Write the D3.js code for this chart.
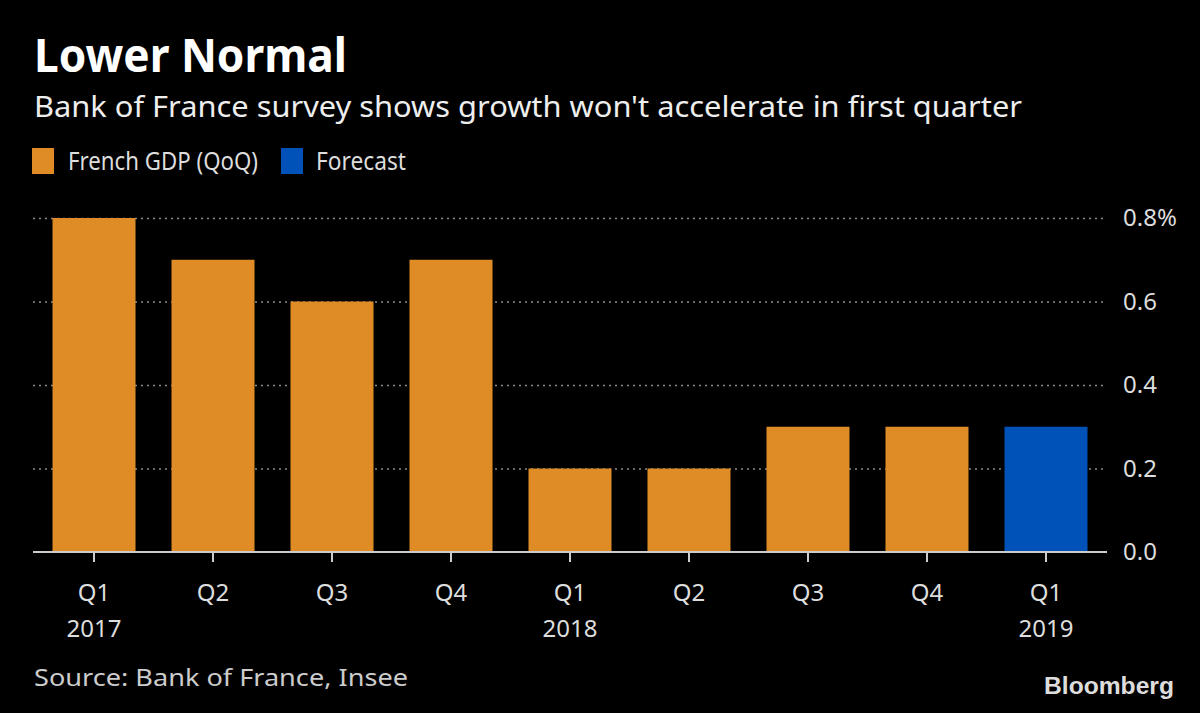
<!DOCTYPE html>
<html><head><meta charset="utf-8">
<script src="https://cdn.jsdelivr.net/npm/d3@7"></script>
<style>
html,body{margin:0;padding:0;background:#000;}
svg{display:block;}
text{font-family:"Noto Sans","Open Sans",sans-serif;}
</style></head>
<body>
<script>
const quarters = ["Q1","Q2","Q3","Q4","Q1","Q2","Q3","Q4","Q1"];
const years = ["2017","","","","2018","","","","2019"];
const gdp = [0.8,0.7,0.6,0.7,0.2,0.2,0.3,0.3,null];
const forecast = [null,null,null,null,null,null,null,null,0.3];
const yTicks = [0,0.2,0.4,0.6,0.8];
const yTickLabels = ["0.0","0.2","0.4","0.6","0.8%"];
const legendLabels = ["French GDP (QoQ)","Forecast"];
const colors = ["#DF8C26","#0051B8"];

const W=1200,H=713;
const svg=d3.select("body").append("svg").attr("width",W).attr("height",H);
svg.append("rect").attr("width",W).attr("height",H).attr("fill","#000");

svg.append("text").attr("x",34).attr("y",72).attr("fill","#fff")
  .attr("font-size",46).attr("font-weight",700)
  .attr("textLength",313).attr("lengthAdjust","spacingAndGlyphs").text("Lower Normal");
svg.append("text").attr("x",34).attr("y",117).attr("fill","#eee")
  .attr("font-size",29).attr("textLength",988).attr("lengthAdjust","spacingAndGlyphs")
  .text("Bank of France survey shows growth won't accelerate in first quarter");

// legend
const lg=[{x:32,tx:68,tw:190},{x:281,tx:316,tw:90}];
lg.forEach((d,i)=>{
  svg.append("rect").attr("x",d.x).attr("y",148).attr("width",22).attr("height",26).attr("fill",colors[i]);
  svg.append("text").attr("x",d.tx).attr("y",170).attr("fill","#ddd").attr("font-size",26)
    .attr("textLength",d.tw).attr("lengthAdjust","spacingAndGlyphs").text(legendLabels[i]);
});

const x=d3.scaleBand().domain(d3.range(quarters.length)).range([33,1107]).paddingInner(0.3025).paddingOuter(0.164);
const y=d3.scaleLinear().domain([0,0.8]).range([552,218]);

// gridlines
const grid=svg.append("g").attr("transform","translate(33,0)")
  .call(d3.axisRight(y).tickValues(yTicks.filter(v=>v>0)).tickSize(1070).tickFormat(""));
grid.select(".domain").remove();
grid.selectAll("line").attr("stroke","#8a8a8a").attr("stroke-width",1.5).attr("stroke-dasharray","2,4");

// bars
const data=quarters.map((q,i)=>({i, v: gdp[i]!=null?gdp[i]:forecast[i], c: gdp[i]!=null?colors[0]:colors[1]}));
svg.append("g").selectAll("rect").data(data).join("rect")
  .attr("x",d=>x(d.i)).attr("width",x.bandwidth())
  .attr("y",d=>y(d.v)).attr("height",d=>y(0)-y(d.v)).attr("fill",d=>d.c);

// y labels
const ya=svg.append("g").attr("transform","translate(1123,0)")
  .call(d3.axisRight(y).tickValues(yTicks).tickSize(0).tickPadding(0).tickFormat((d,i)=>yTickLabels[i]));
ya.select(".domain").remove();
ya.selectAll("text").attr("fill","#ddd").attr("font-size",24).style("font-family","'Noto Sans','Open Sans',sans-serif");

// x axis
const xa=svg.append("g").attr("transform","translate(0,552)")
  .call(d3.axisBottom(x).tickSize(10).tickFormat(""));
xa.select(".domain").attr("stroke","#ccc").attr("stroke-width",2).attr("d","M33,0H1107");
xa.selectAll("line").attr("stroke","#ccc").attr("stroke-width",2);
const xl=svg.append("g");
xl.selectAll(".q").data(quarters).join("text").attr("class","q")
  .attr("x",(d,i)=>x(i)+x.bandwidth()/2).attr("y",601).attr("text-anchor","middle")
  .attr("fill","#ddd").attr("font-size",24).text(d=>d);
xl.selectAll(".yr").data(years).join("text").attr("class","yr")
  .attr("x",(d,i)=>x(i)+x.bandwidth()/2).attr("y",637).attr("text-anchor","middle")
  .attr("fill","#ddd").attr("font-size",24).text(d=>d);

svg.append("text").attr("x",34).attr("y",686).attr("fill","#ccc").attr("font-size",24)
  .attr("textLength",374).attr("lengthAdjust","spacingAndGlyphs").text("Source: Bank of France, Insee");
svg.append("text").attr("x",1174).attr("y",694).attr("text-anchor","end").attr("fill","#ddd")
  .attr("font-size",24).attr("font-weight",700).style("font-family","Arial,'Liberation Sans',sans-serif")
  .attr("textLength",130).attr("lengthAdjust","spacingAndGlyphs").text("Bloomberg");
</script>
</body></html>
